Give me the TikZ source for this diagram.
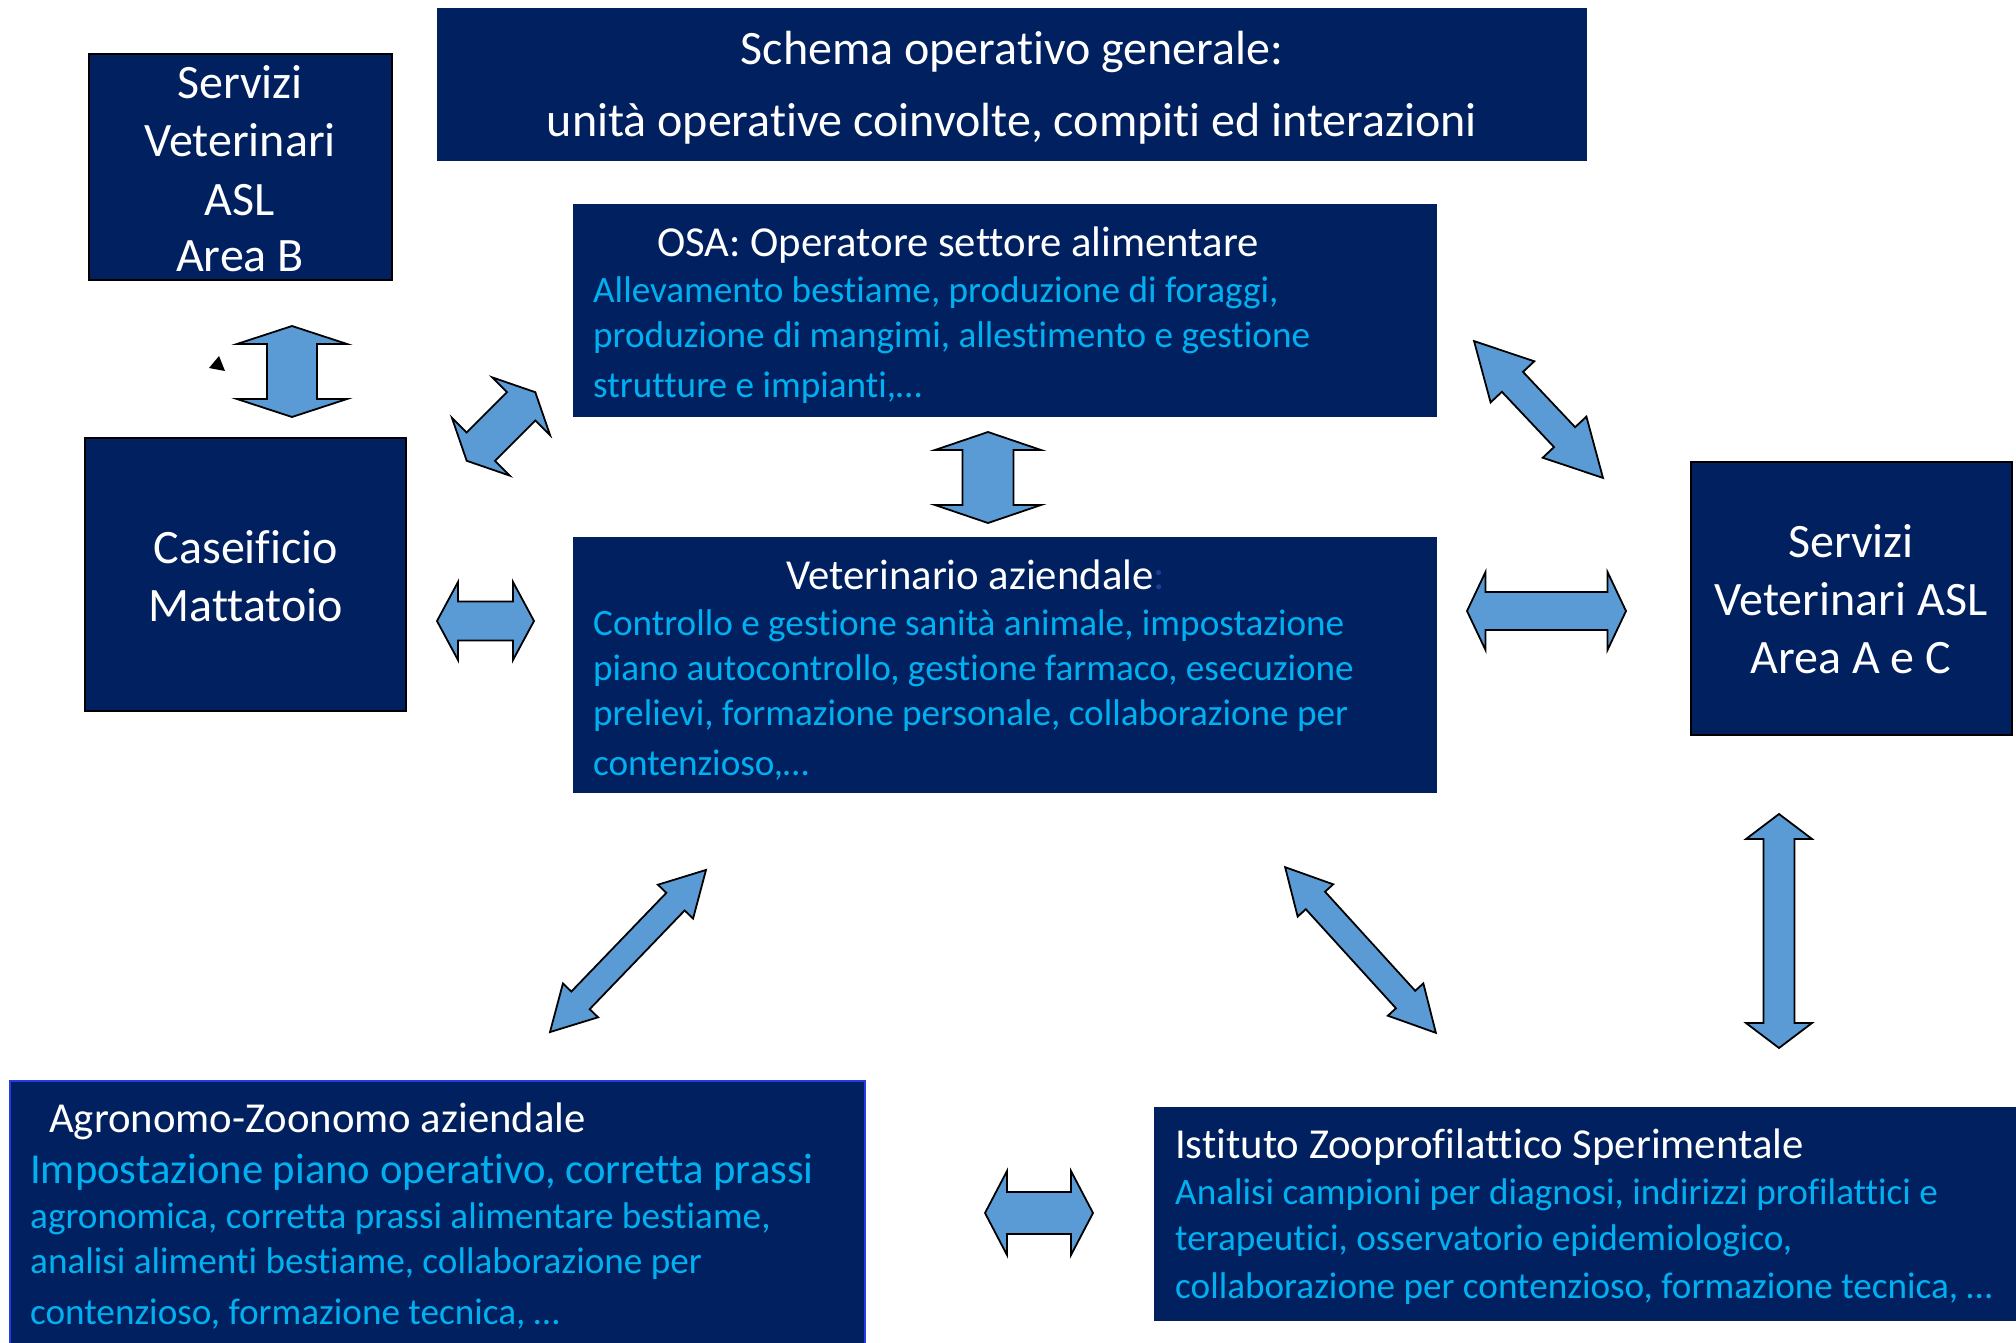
\documentclass[tikz,border=0pt]{standalone}
\usepackage{fontspec}
\setmainfont{Carlito}[Ligatures=NoCommon]
\definecolor{navy}{HTML}{002060}
\definecolor{cyantxt}{HTML}{00B0F0}
\definecolor{arrowblue}{HTML}{5B9BD5}
\definecolor{edgeblue}{RGB}{40,60,230}
\definecolor{dimcolon}{HTML}{1F3C96}
\tikzset{
  box/.style={fill=navy, draw=none},
  framedbox/.style={fill=navy, draw=black, line width=2pt},
  bluebox/.style={fill=navy, draw=edgeblue, line width=2pt},
  bigtxt/.style={inner sep=0pt, anchor=base, text=white, font=\fontsize{48}{58}\selectfont},
  headtxt/.style={inner sep=0pt, anchor=base west, text=white, font=\fontsize{42.7}{50}\selectfont},
  bodytxt/.style={inner sep=0pt, anchor=base west, text=cyantxt, font=\fontsize{37.2}{45}\selectfont},
  blockarrow/.style={fill=arrowblue, draw=black, line width=1.8pt, line join=miter},
}
% double block arrow: centre x, centre y, angle, length, head half width, shaft half width, head length
\newcommand\dblarrow[7]{%
  \begin{scope}[shift={(#1,#2)}, rotate=#3]
    \draw[blockarrow] ({-#4/2},0) -- ({-#4/2+#7},#5) -- ({-#4/2+#7},#6) -- ({#4/2-#7},#6)
      -- ({#4/2-#7},#5) -- ({#4/2},0) -- ({#4/2-#7},-#5) -- ({#4/2-#7},-#6)
      -- ({-#4/2+#7},-#6) -- ({-#4/2+#7},-#5) -- cycle;
  \end{scope}}
\begin{document}
\begin{tikzpicture}[x=1pt, y=-1pt]
  \useasboundingbox[fill=white] (0,0) rectangle (2016,1343);

  % boxes
  \path[box] (437,8) rectangle (1587,161) coordinate (titlebox);
  \path[framedbox] (89,54) rectangle (392,280) coordinate (aslb);
  \path[box] (573,204) rectangle (1437,417) coordinate (osa);
  \path[framedbox] (85,438) rectangle (406,711) coordinate (caseificio);
  \path[box] (573,537) rectangle (1437,793) coordinate (vet);
  \path[framedbox] (1691,462) rectangle (2012,735) coordinate (aslac);
  \path[bluebox] (10,1081) rectangle (865,1345) coordinate (agro);
  \path[box] (1154,1107) rectangle (2016,1321) coordinate (izs);

  % title
  \node[bigtxt] (t1) at (1012,65) {Schema operativo generale:};
  \node[bigtxt] (t2) at (1012,137) {unità operative coinvolte, compiti ed interazioni};

  % Servizi Veterinari ASL Area B
  \node[bigtxt] (b1) at (240,99) {Servizi};
  \node[bigtxt] (b2) at (240,157) {Veterinari};
  \node[bigtxt] (b3) at (240,215) {ASL};
  \node[bigtxt] (b4) at (240,272) {Area B};

  % Caseificio / Mattatoio
  \node[bigtxt] (c1) at (246,563) {Caseificio};
  \node[bigtxt] (c2) at (246,621) {Mattatoio};

  % Servizi Veterinari ASL Area A e C
  \node[bigtxt] (a1) at (1851,557) {Servizi};
  \node[bigtxt] (a2) at (1851,615) {Veterinari ASL};
  \node[bigtxt] (a3) at (1851,673) {Area A e C};

  % OSA
  \node[headtxt] (o0) at (657,256) {OSA: Operatore settore alimentare};
  \node[bodytxt] (o1) at (593,302) {Allevamento bestiame, produzione di foraggi,};
  \node[bodytxt] (o2) at (593,347) {produzione di mangimi, allestimento e gestione};
  \node[bodytxt] (o3) at (593,397) {strutture e impianti,…};

  % Veterinario aziendale
  \node[headtxt] (v0) at (786,589) {Veterinario aziendale\textcolor{dimcolon}{:}};
  \node[bodytxt] (v1) at (593,635) {Controllo e gestione sanità animale, impostazione};
  \node[bodytxt] (v2) at (593,680) {piano autocontrollo, gestione farmaco, esecuzione};
  \node[bodytxt] (v3) at (593,725) {prelievi, formazione personale, collaborazione per};
  \node[bodytxt] (v4) at (593,775) {contenzioso,…};

  % Agronomo-Zoonomo aziendale
  \node[headtxt] (g0) at (49,1132) {Agronomo-Zoonomo aziendale};
  \node[bodytxt, font=\fontsize{42.7}{50}\selectfont] (g1) at (30,1183) {Impostazione piano operativo, corretta prassi};
  \node[bodytxt] (g2) at (30,1228) {agronomica, corretta prassi alimentare bestiame,};
  \node[bodytxt] (g3) at (30,1273) {analisi alimenti bestiame, collaborazione per};
  \node[bodytxt] (g4) at (30,1324) {contenzioso, formazione tecnica, …};

  % Istituto Zooprofilattico Sperimentale
  \node[headtxt] (i0) at (1175,1158) {Istituto Zooprofilattico Sperimentale};
  \node[bodytxt] (i1) at (1175,1204) {Analisi campioni per diagnosi, indirizzi profilattici e};
  \node[bodytxt] (i2) at (1175,1250) {terapeutici, osservatorio epidemiologico,};
  \node[bodytxt] (i3) at (1175,1298) {collaborazione per contenzioso, formazione tecnica, …};

  % block arrows between the units
  \dblarrow{292}{371.5}{90}{91}{55}{25}{18}
  \dblarrow{501}{426.5}{45}{97}{41}{20}{20}
  \dblarrow{988}{477.5}{90}{91}{53}{25.5}{18}
  \dblarrow{1538.5}{409.5}{-46.7}{188}{30}{14.5}{56}
  \dblarrow{485.5}{621}{0}{97}{39}{19.5}{21}
  \dblarrow{1546.5}{611}{0}{159}{39}{19}{18.5}
  \dblarrow{1779}{931}{90}{234}{33}{15.5}{25}
  \dblarrow{628}{951}{46.1}{225}{24.4}{12.7}{44}
  \dblarrow{1360.5}{950}{-47.7}{224}{24}{13}{45}
  \dblarrow{1039}{1213}{0}{108}{42}{21}{22}

  % small pointer mark
  \fill[black] (219,356) -- (209,368) -- (225,371) -- cycle;
\end{tikzpicture}
\end{document}
